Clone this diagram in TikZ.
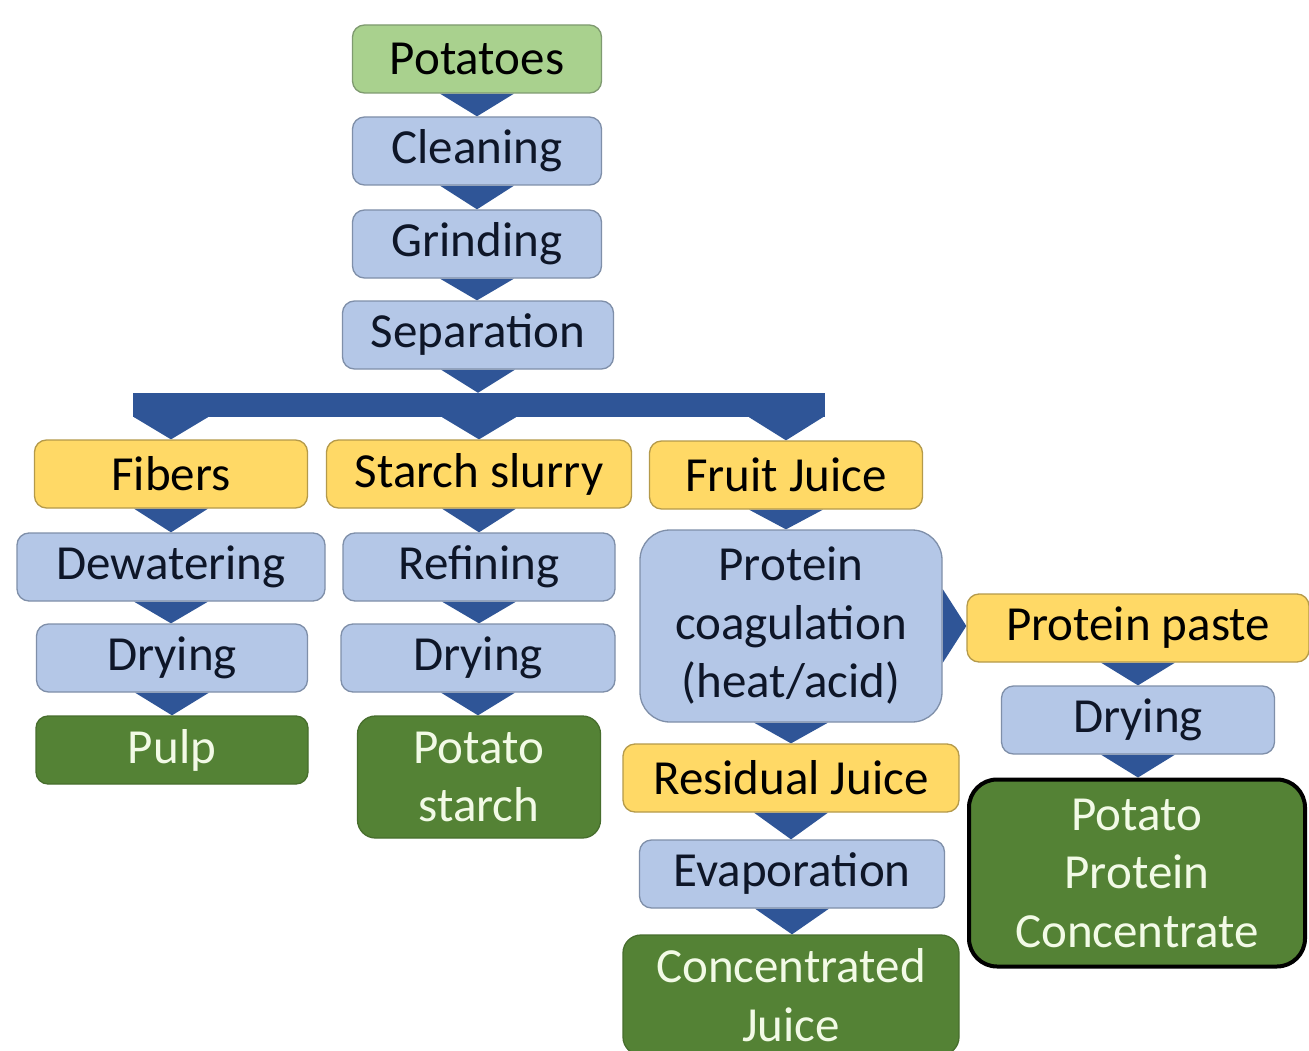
\documentclass[tikz,border=0pt]{standalone}
\usepackage{fontspec}
\setmainfont{Carlito}
\usepackage{xcolor}
\usepackage{tikz}
\usetikzlibrary{calc, backgrounds}

\definecolor{stepblue}{HTML}{B4C7E7}
\definecolor{stepedge}{HTML}{7F8FA9}
\definecolor{feedyellow}{HTML}{FFD966}
\definecolor{feededge}{HTML}{B59A4A}
\definecolor{rawgreen}{HTML}{A9D18E}
\definecolor{rawedge}{HTML}{7F9A70}
\definecolor{prodgreen}{HTML}{548235}
\definecolor{prodtext}{HTML}{F2FAE6}
\definecolor{chevblue}{HTML}{2F5597}
\definecolor{inktext}{HTML}{0E1628}

\begin{document}
\begin{tikzpicture}[x=1pt, y=-1pt,
    stepbox/.style={draw=stepedge, line width=1.3pt, rounded corners=12pt, fill=stepblue, inner sep=0pt, minimum height=68pt, align=center, text=inktext, font=\fontsize{49}{58.5}\selectfont},
    feedbox/.style={stepbox, draw=feededge, fill=feedyellow, text=black},
    rawbox/.style={stepbox, draw=rawedge, fill=rawgreen, text=black},
    prodbox/.style={stepbox, draw=prodgreen!85!black, fill=prodgreen, text=prodtext},
    chev/.style={fill=chevblue, to path={($(\tikztostart)+(-37,0)$) -- ($(\tikztostart)+(37,0)$) -- (\tikztostart |- \tikztotarget.north) -- cycle}},
    chevr/.style={fill=chevblue, to path={($(\tikztostart)+(0,-37)$) -- ($(\tikztostart)+(0,37)$) -- (\tikztostart -| \tikztotarget.west) -- cycle}}
]
    \useasboundingbox (0,0) rectangle (1309,1051);

    \node[rawbox, minimum width=249pt] (pot) at (477,59) {Potatoes};
    \node[stepbox, minimum width=249pt] (cln) at (477,151) {Cleaning};
    \node[stepbox, minimum width=249pt] (grd) at (477,244) {Grinding};
    \node[stepbox, minimum width=271pt] (sep) at (478,335) {Separation};
    \node[fill=chevblue, inner sep=0pt, minimum width=692pt, minimum height=24pt] (bar) at (479,405) {};

    \node[feedbox, minimum width=273pt] (fib) at (171,474) {Fibers};
    \node[feedbox, minimum width=305pt] (sly) at (479,474) {Starch slurry};
    \node[feedbox, minimum width=273pt] (jui) at (786,475) {Fruit Juice};

    \node[stepbox, minimum width=308pt] (dew) at (171,567) {Dewatering};
    \node[stepbox, minimum width=272pt] (ref) at (479,567) {Refining};
    \node[stepbox, minimum width=302pt, minimum height=192pt, rounded corners=30pt] (coa) at (791,626) {Protein\\coagulation\\(heat/acid)};

    \node[stepbox, minimum width=271pt] (dr1) at (172,658) {Drying};
    \node[stepbox, minimum width=274pt] (dr2) at (478,658) {Drying};
    \node[feedbox, minimum width=342pt] (pst) at (1138,628) {Protein paste};

    \node[prodbox, minimum width=272pt] (pulp) at (172,750) {Pulp};
    \node[prodbox, minimum width=243pt, minimum height=122pt, rounded corners=18pt] (sta) at (479,777) {Potato\\starch};
    \node[stepbox, minimum width=273pt] (dr3) at (1138,720) {Drying};
    \node[feedbox, minimum width=336pt] (res) at (791,778) {Residual Juice};

    \node[prodbox, draw=black, line width=4pt, minimum width=336pt, minimum height=187pt, rounded corners=28pt] (ppc) at (1137,873) {Potato\\Protein\\Concentrate};
    \node[stepbox, minimum width=305pt] (eva) at (792,874) {Evaporation};
    \node[prodbox, minimum width=336pt, minimum height=120pt, rounded corners=18pt] (cjc) at (791,995) {Concentrated\\Juice};

    \coordinate (b1) at (bar.south -| fib.north);
    \coordinate (b2) at (bar.south -| sly.north);
    \coordinate (b3) at (bar.south -| jui.north);

    \begin{scope}[on background layer]
        \fill[white] (0,0) rectangle (1309,1051);
        \fill[chev] (pot.south) to (cln);
        \fill[chev] (cln.south) to (grd);
        \fill[chev] (grd.south) to (sep);
        \fill[chev] (sep.south) to (bar);
        \fill[chev] (b1) to (fib);
        \fill[chev] (b2) to (sly);
        \fill[chev] (b3) to (jui);
        \fill[chev] (fib.south) to (dew);
        \fill[chev] (dew.south) to (dr1);
        \fill[chev] (dr1.south) to (pulp);
        \fill[chev] (sly.south) to (ref);
        \fill[chev] (ref.south) to (dr2);
        \fill[chev] (dr2.south) to (sta);
        \fill[chev] (jui.south) to (coa);
        \fill[chev] (coa.south) to (res);
        \fill[chev] (res.south) to (eva);
        \fill[chev] (eva.south) to (cjc);
        \fill[chevr] (coa.east) to (pst);
        \fill[chev] (pst.south) to (dr3);
        \fill[chev] (dr3.south) to (ppc);
    \end{scope}
\end{tikzpicture}
\end{document}
